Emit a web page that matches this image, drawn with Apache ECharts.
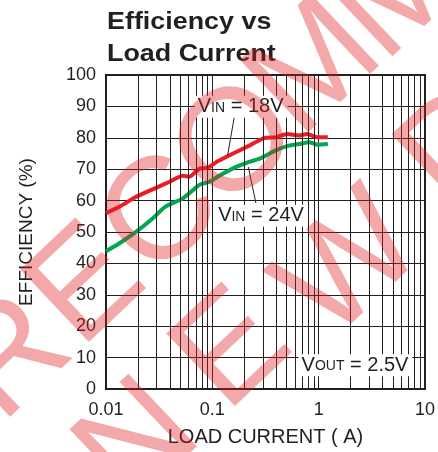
<!DOCTYPE html>
<html><head><meta charset="utf-8">
<script src="https://cdn.jsdelivr.net/npm/echarts@6/dist/echarts.min.js"></script>
<style>html,body{margin:0;padding:0;background:#fff}#c{width:438px;height:452px}</style>
</head><body><div id="c"></div>
<script>
// Load current (A) and efficiency (%)
const vin18Current = [0.01, 0.0135, 0.0194, 0.0287, 0.0396, 0.0528, 0.061, 0.0756, 0.0904, 0.112, 0.155, 0.222, 0.306, 0.394, 0.506, 0.65, 0.778, 0.964, 1.22];
const vin18Efficiency = [56, 58.1, 61.3, 63.9, 66, 67.9, 67.6, 70.2, 70.4, 72.5, 74.9, 77.5, 79.9, 80.2, 81.2, 80.7, 81.2, 80.2, 80.2];
const vin24Current = [0.01, 0.0135, 0.0194, 0.0276, 0.0362, 0.0528, 0.0756, 0.094, 0.116, 0.155, 0.222, 0.285, 0.394, 0.525, 0.65, 0.815, 0.964, 1.22];
const vin24Efficiency = [43.9, 46.5, 50.2, 54.4, 58.1, 60.7, 65, 66, 67.9, 70.2, 72.3, 73.5, 76, 77.5, 78, 78.6, 77.8, 78];
const xTickLabels = ['0.01', '0.1', '1', '10'];
const decadeStarts = [0.01, 0.1, 1];
const minorMultipliers = [2, 3, 4, 5, 6, 7, 8, 9];

const FONT = '"Liberation Sans", Arial, Helvetica, sans-serif';
const INK = '#231f20';
const RED = '#ed1c24';
const GREEN = '#00a651';

const minorGrid = [];
decadeStarts.forEach(d => minorMultipliers.forEach(k => minorGrid.push({ xAxis: +(d * k).toPrecision(3) })));

const zip = (xs, ys) => xs.map((x, i) => [x, ys[i]]);

const richLabel = {
  v: { fontSize: 20, fontFamily: FONT, color: INK, verticalAlign: 'bottom', lineHeight: 20 },
  s: { fontSize: 14, fontFamily: FONT, color: INK, verticalAlign: 'bottom', lineHeight: 14, padding: [0, 0, 2, 0] }
};
const boxLabel = (fmt) => ({
  show: true, position: 'inside', formatter: fmt, rich: richLabel,
  backgroundColor: '#fff', padding: [1, 4, 1, 3]
});
const leader = (a, b) => [{ coord: a }, { coord: b }];

// watermark letters
const WM = 'rgba(224,30,30,0.38)';
const wmLetters = [
  ['R', 12, 360], ['E', 88, 288], ['C', 163, 217], ['O', 238, 146], ['M', 316, 70], ['M', 400, -6],
  ['N', 140, 445], ['E', 234, 352], ['W', 352, 268], ['D', 462, 150]
];

const chart = echarts.init(document.getElementById('c'), null, { renderer: 'canvas' });
chart.setOption({
  animation: false,
  backgroundColor: '#fff',
  grid: { left: 106, top: 75, right: 11, bottom: 59.5, show: true, borderColor: INK, borderWidth: 2, backgroundColor: 'transparent' },
  xAxis: {
    type: 'log', logBase: 10, min: 0.01, max: 10,
    axisLine: { show: false }, axisTick: { show: false },
    splitLine: { show: true, lineStyle: { color: INK, width: 1 } },
    axisLabel: {
      fontSize: 18, fontFamily: FONT, color: INK, margin: 12,
      formatter: v => xTickLabels[Math.round(Math.log10(v)) + 2]
    },
    name: 'LOAD CURRENT ( A)', nameLocation: 'middle', nameGap: 38,
    nameTextStyle: { fontSize: 20, fontFamily: FONT, color: INK }
  },
  yAxis: {
    type: 'value', min: 0, max: 100, interval: 10,
    axisLine: { show: false }, axisTick: { show: false },
    splitLine: { show: true, lineStyle: { color: INK, width: 1 } },
    axisLabel: { fontSize: 18, fontFamily: FONT, color: INK, margin: 10 },
    name: 'EFFICIENCY (%)', nameLocation: 'middle', nameGap: 70,
    nameTextStyle: { fontSize: 19, fontFamily: FONT, color: INK }
  },
  series: [
    {
      type: 'line', data: [[0.01, 0], [10, 0]], silent: true, z: 1,
      symbol: 'none', lineStyle: { opacity: 0 }, tooltip: { show: false },
      markLine: {
        silent: true, symbol: ['none', 'none'], label: { show: false },
        lineStyle: { color: INK, width: 1, type: 'solid' },
        emphasis: { disabled: true },
        data: minorGrid
      }
    },
    {
      name: 'VIN = 24V', type: 'line', data: zip(vin24Current, vin24Efficiency), z: 3,
      symbol: 'none', smooth: 0.2, color: GREEN, lineStyle: { width: 4, color: GREEN },
      markLine: {
        silent: true, symbol: ['none', 'none'], label: { show: false },
        lineStyle: { color: INK, width: 1, type: 'solid' },
        data: [leader([0.218, 70.7], [0.257, 59.2])]
      },
      markPoint: {
        silent: true, symbol: 'rect', symbolSize: 0,
        data: [
          { coord: [0.29, 55.2], label: boxLabel('{v|V}{s|IN}{v| = 24V}') },
          { coord: [2.22, 7.6], label: boxLabel('{v|V}{s|OUT}{v| = 2.5V}') }
        ]
      }
    },
    {
      name: 'VIN = 18V', type: 'line', data: zip(vin18Current, vin18Efficiency), z: 4,
      symbol: 'none', smooth: 0.2, color: RED, lineStyle: { width: 4, color: RED },
      markLine: {
        silent: true, symbol: ['none', 'none'], label: { show: false },
        lineStyle: { color: INK, width: 1, type: 'solid' },
        data: [leader([0.1606, 86.5], [0.139, 74.3])]
      },
      markPoint: {
        silent: true, symbol: 'rect', symbolSize: 0,
        data: [{ coord: [0.1866, 89.9], label: boxLabel('{v|V}{s|IN}{v| = 18V}') }]
      }
    }
  ],
  graphic: [
    {
      type: 'text', x: 107, y: 6, scaleX: 1.12, z: 10, silent: true,
      style: { text: 'Efficiency vs\nLoad Current', font: 'bold 24px ' + FONT, fill: INK, lineHeight: 32 }
    }
  ].concat(wmLetters.map(([t, x, y]) => ({
    type: 'text', x: x, y: y, rotation: 0.758, z: 100, silent: true,
    style: { text: t, font: '145px ' + FONT, fill: WM, align: 'center', verticalAlign: 'middle' }
  })))
});
</script>
</body></html>
